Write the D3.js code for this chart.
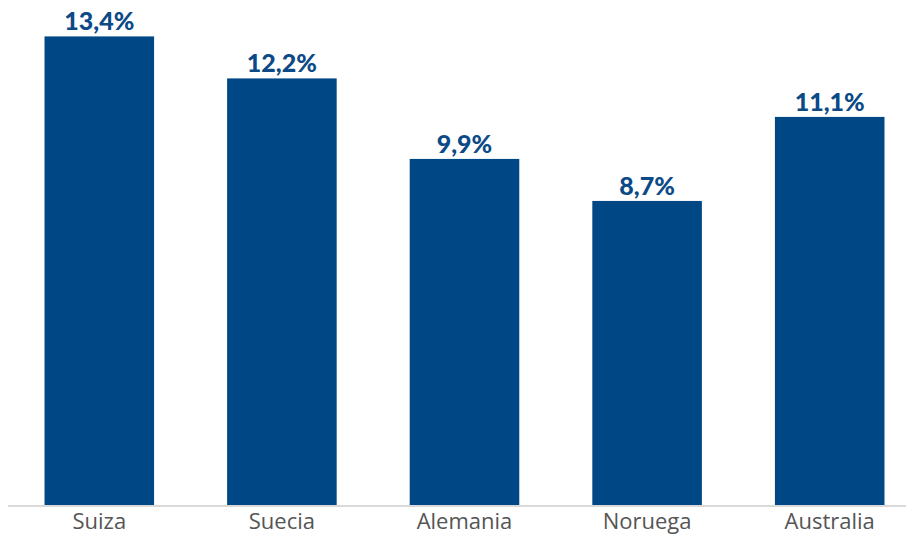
<!DOCTYPE html>
<html>
<head>
<meta charset="utf-8">
<script src="https://cdn.jsdelivr.net/npm/d3@7"></script>
<style>
  body { margin: 0; background: #fff; }
</style>
</head>
<body>
<div id="chart"></div>
<script>
const countries = ['Suiza', 'Suecia', 'Alemania', 'Noruega', 'Australia']
const values = [13.4, 12.2, 9.9, 8.7, 11.1]
const valueLabels = ['13,4%', '12,2%', '9,9%', '8,7%', '11,1%']

const width = 907
const height = 535
const baseline = 505.5

const svg = d3.select('#chart')
  .append('svg')
  .attr('width', width)
  .attr('height', height)

const x = d3.scaleBand()
  .domain(countries)
  .range([8, 921])
  .paddingInner(0.4)
  .paddingOuter(0.2)

// 35 px per percentage point
const y = d3.scaleLinear()
  .domain([0, 14.44])
  .range([baseline, 0])

const data = countries.map((c, i) => ({ country: c, value: values[i], label: valueLabels[i] }))

svg.selectAll('rect.bar')
  .data(data)
  .enter()
  .append('rect')
  .attr('class', 'bar')
  .attr('x', d => x(d.country))
  .attr('y', d => y(d.value))
  .attr('width', x.bandwidth())
  .attr('height', d => baseline - y(d.value))
  .attr('fill', '#004785')

svg.append('line')
  .attr('x1', 8)
  .attr('x2', 906)
  .attr('y1', baseline + 0.5)
  .attr('y2', baseline + 0.5)
  .attr('stroke', '#d9d9d9')
  .attr('stroke-width', 2)

svg.selectAll('text.value')
  .data(data)
  .enter()
  .append('text')
  .attr('class', 'value')
  .attr('x', d => x(d.country) + x.bandwidth() / 2)
  .attr('y', d => y(d.value) - 6)
  .attr('text-anchor', 'middle')
  .attr('font-family', 'Lato, "Open Sans", sans-serif')
  .attr('font-weight', 900)
  .attr('font-size', 25)
  .attr('fill', '#0b4a86')
  .text(d => d.label)

svg.selectAll('text.cat')
  .data(data)
  .enter()
  .append('text')
  .attr('class', 'cat')
  .attr('x', d => x(d.country) + x.bandwidth() / 2)
  .attr('y', 529)
  .attr('text-anchor', 'middle')
  .attr('font-family', '"Open Sans", sans-serif')
  .attr('font-size', 22)
  .attr('fill', '#555555')
  .text(d => d.country)
</script>
</body>
</html>
